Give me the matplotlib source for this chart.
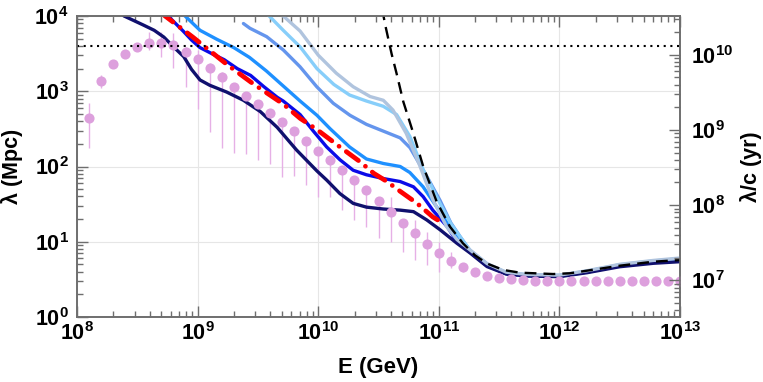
import numpy as np
import matplotlib
matplotlib.use("Agg")
import matplotlib.pyplot as plt
from matplotlib.ticker import LogLocator, FixedLocator, NullFormatter, FuncFormatter

plt.rcParams['font.family'] = ['Liberation Sans', 'DejaVu Sans']
plt.rcParams['mathtext.fontset'] = 'custom'
plt.rcParams['mathtext.rm'] = 'Liberation Sans:bold'
plt.rcParams['mathtext.bf'] = 'Liberation Sans:bold'
plt.rcParams['mathtext.it'] = 'Liberation Sans:bold'

# ---------------- data (log10 E [GeV], log10 lambda [Mpc]) ----------------
navy_logE = [8.30, 8.39, 8.55, 8.64, 8.72, 8.80, 8.885, 8.95, 9.02, 9.10, 9.24, 9.38, 9.52, 9.66,
             9.82, 9.99, 10.07, 10.18, 10.29, 10.40, 10.54, 10.68, 10.79, 10.90, 11.01, 11.15,
             11.26, 11.40, 11.56, 11.73, 12.00, 12.23, 12.50, 12.78, 13.00]
navy_logL = [4.12, 4.00, 3.88, 3.81, 3.72, 3.59, 3.46, 3.29, 3.15, 3.08, 2.99, 2.88, 2.73, 2.52,
             2.22, 1.94, 1.82, 1.64, 1.51, 1.46, 1.435, 1.42, 1.40, 1.29, 1.16, 0.98,
             0.85, 0.67, 0.57, 0.545, 0.536, 0.589, 0.668, 0.714, 0.735]

blue_logE = [8.70, 8.755, 8.88, 8.95, 9.02, 9.13, 9.22, 9.33, 9.44, 9.55, 9.66, 9.71, 9.85, 9.96,
             10.07, 10.18, 10.29, 10.40, 10.54, 10.68, 10.79, 10.87, 10.95, 11.07, 11.15,
             11.26, 11.40, 11.56, 11.73, 12.00, 12.23, 12.50, 12.78, 13.00]
blue_logL = [4.08, 4.00, 3.80, 3.68, 3.58, 3.49, 3.42, 3.30, 3.21, 3.06, 2.92, 2.87, 2.69, 2.47,
             2.26, 2.09, 1.95, 1.89, 1.84, 1.80, 1.73, 1.60, 1.42, 1.20, 1.00,
             0.86, 0.68, 0.575, 0.55, 0.542, 0.597, 0.68, 0.728, 0.75]

dodger_logE = [8.85, 8.896, 9.02, 9.16, 9.30, 9.43, 9.57, 9.71, 9.85, 9.99, 10.10, 10.26, 10.40,
               10.54, 10.68, 10.76, 10.87, 10.98, 11.08, 11.16,
               11.26, 11.40, 11.56, 11.73, 12.00, 12.23, 12.50, 12.78, 13.00]
dodger_logL = [4.06, 4.00, 3.81, 3.69, 3.58, 3.45, 3.27, 3.07, 2.87, 2.68, 2.50, 2.26, 2.10,
               2.04, 2.00, 1.92, 1.73, 1.47, 1.22, 1.03,
               0.87, 0.69, 0.58, 0.553, 0.546, 0.602, 0.686, 0.735, 0.757]

corn_logE = [9.38, 9.434, 9.573, 9.711, 9.849, 9.988, 10.125, 10.264, 10.40, 10.54, 10.68, 10.761,
             10.90, 11.01, 11.10, 11.18,
             11.26, 11.40, 11.56, 11.73, 12.00, 12.23, 12.50, 12.78, 13.00]
corn_logL = [3.90, 3.837, 3.725, 3.548, 3.326, 3.06, 2.84, 2.68, 2.56, 2.47, 2.38, 2.25,
             1.87, 1.55, 1.25, 1.06,
             0.88, 0.70, 0.585, 0.556, 0.55, 0.607, 0.69, 0.74, 0.765]

sky_logE = [9.56, 9.60, 9.71, 9.85, 9.99, 10.13, 10.26, 10.40, 10.54, 10.65, 10.76, 10.87, 11.01,
            11.10, 11.18,
            11.26, 11.40, 11.56, 11.73, 12.00, 12.23, 12.50, 12.78, 13.00]
sky_logL = [4.05, 3.99, 3.81, 3.59, 3.30, 3.09, 2.95, 2.87, 2.80, 2.69, 2.40, 1.96, 1.51,
            1.24, 1.06,
            0.885, 0.705, 0.59, 0.56, 0.553, 0.61, 0.695, 0.745, 0.775]

steel_logE = [9.68, 9.71, 9.85, 10.00, 10.15, 10.29, 10.43, 10.54, 10.62, 10.73, 10.84, 10.95,
              11.065, 11.15,
              11.26, 11.40, 11.56, 11.73, 12.00, 12.23, 12.50, 12.78, 13.00]
steel_logL = [4.05, 4.00, 3.80, 3.48, 3.24, 3.06, 2.93, 2.88, 2.75, 2.44, 2.02, 1.56,
              1.20, 1.03,
              0.89, 0.71, 0.595, 0.565, 0.556, 0.615, 0.70, 0.752, 0.784]

red_logE = [8.70, 8.73, 8.96, 9.24, 9.46, 9.71, 9.85, 9.99, 10.18, 10.35, 10.46, 10.57, 10.68,
            10.82, 10.95, 10.99]
red_logL = [4.05, 4.00, 3.72, 3.36, 3.10, 2.83, 2.64, 2.49, 2.26, 2.06, 1.91, 1.80, 1.67,
            1.51, 1.33, 1.29]

dash_logE = [10.53, 10.554, 10.609, 10.651, 10.706, 10.789, 10.871, 10.983, 11.093, 11.20, 11.30,
             11.40, 11.535, 11.673, 11.949, 12.088, 12.226, 12.502, 12.779, 13.0]
dash_logL = [4.10, 3.894, 3.495, 3.229, 2.86, 2.44, 2.00, 1.53, 1.20, 0.98, 0.82,
             0.71, 0.625, 0.589, 0.571, 0.581, 0.615, 0.682, 0.735, 0.757]

hubble_mpc = 4030.0

pts_logE = [8.1, 8.2, 8.3, 8.4, 8.5, 8.6, 8.7, 8.8, 8.9, 9.0,
            9.1, 9.2, 9.3, 9.4, 9.5, 9.6, 9.7, 9.8, 9.9, 10.0,
            10.1, 10.2, 10.3, 10.4, 10.5, 10.6, 10.7, 10.8, 10.9, 11.0,
            11.1, 11.2, 11.3, 11.4, 11.5, 11.6, 11.7, 11.8, 11.9, 12.0,
            12.1, 12.2, 12.3, 12.4, 12.5, 12.6, 12.7, 12.8, 12.9, 13.0]
pts_logL = [2.64, 3.13, 3.36, 3.50, 3.59, 3.645, 3.645, 3.615, 3.52, 3.43,
            3.305, 3.19, 3.06, 2.94, 2.83, 2.71, 2.595, 2.47, 2.34, 2.21,
            2.08, 1.95, 1.82, 1.69, 1.54, 1.395, 1.25, 1.11, 0.97, 0.846,
            0.748, 0.66, 0.594, 0.549, 0.522, 0.50, 0.492, 0.485, 0.48, 0.48,
            0.48, 0.48, 0.48, 0.48, 0.48, 0.48, 0.48, 0.48, 0.48, 0.48]
pts_hiL = [2.85, 3.21, 3.40, 3.53, 3.63, 3.79, 3.79, 3.78, 3.59, 3.55,
           3.38, 3.25, 3.11, 2.98, 2.87, 2.75, 2.63, 2.51, 2.38, 2.25,
           2.12, 1.99, 1.86, 1.72, 1.57, 1.60, 1.29, 1.29, 1.13, 1.00,
           0.87, 0.72, 0.62, 0.56, 0.53, 0.51, 0.50, 0.49, 0.49, 0.49,
           0.49, 0.49, 0.49, 0.49, 0.49, 0.49, 0.49, 0.49, 0.49, 0.49]
pts_loL = [2.25, 3.04, 3.32, 3.46, 3.55, 3.55, 3.46, 3.31, 3.06, 2.77,
           2.46, 2.24, 2.18, 2.17, 2.08, 2.03, 1.86, 1.87, 1.76, 1.60,
           1.60, 1.42, 1.29, 1.20, 1.05, 1.00, 0.87, 0.76, 0.69, 0.60,
           0.65, 0.60, 0.57, 0.54, 0.51, 0.49, 0.48, 0.47, 0.47, 0.47,
           0.47, 0.47, 0.47, 0.47, 0.47, 0.47, 0.47, 0.47, 0.47, 0.47]

MPC_TO_YR = 3.2616e6
xticks_exp = [8, 9, 10, 11, 12, 13]
yticks_exp = [0, 1, 2, 3, 4]
y2ticks_exp = [7, 8, 9, 10]

# ---------------- figure ----------------
fig = plt.figure(figsize=(7.63, 3.82), dpi=100)
ax = fig.add_axes([77/763, 1-317/382, (680-77)/763, (317-16)/382])
ax.set_xscale('log')
ax.set_yscale('log')
ax.set_xlim(1e8, 1e13)
ax.set_ylim(1, 1e4)

p = lambda a: 10.0 ** np.asarray(a)

ax.grid(True, which='major', color='#e6e6e6', lw=0.8, zorder=0)

curves = [
    (navy_logE, navy_logL, '#10106e'),
    (blue_logE, blue_logL, '#0a0ae8'),
    (dodger_logE, dodger_logL, '#1e90ff'),
    (corn_logE, corn_logL, '#6495ed'),
    (sky_logE, sky_logL, '#87cefa'),
    (steel_logE, steel_logL, '#b0c4de'),
]
for i, (xe, yl, c) in enumerate(curves):
    ax.plot(p(xe), p(yl), color=c, lw=2.4, zorder=3 + 0.1 * (5 - i) if i < 2 else 3 + 0.1 * i,
            solid_capstyle='round')

# pink points with error bars
ptsE = p(pts_logE)
ptsL = p(pts_logL)
yerr = [ptsL - p(pts_loL), p(pts_hiL) - ptsL]
ax.errorbar(ptsE, ptsL, yerr=yerr, fmt='none', ecolor='#e6b0e6', elinewidth=1.0, zorder=2.5)
ax.plot(ptsE, ptsL, 'o', color='#dda0dd', ms=7.3, mec='none', zorder=4)

# red dash-dot
ax.plot(p(red_logE), p(red_logL), color='#ff0000', lw=3.4, linestyle=(0, (3.2, 1.9, 0.01, 1.9)),
        dash_capstyle='round', zorder=5)

# black dashed
ax.plot(p(dash_logE), p(dash_logL), color='black', lw=1.7, linestyle=(0, (5, 3)), zorder=6)

# Hubble radius dotted
ax.axhline(hubble_mpc, color='black', lw=1.5, linestyle=(0, (1, 2.2)), zorder=6)

# ---------------- axes styling ----------------
spine_c = '#6e6e6e'
for s in ax.spines.values():
    s.set_color(spine_c)
    s.set_linewidth(1.2)

def fmt(v, pos):
    e = int(round(np.log10(v)))
    return r'$\mathbf{10^{%d}}$' % e

ax.xaxis.set_major_locator(FixedLocator(p(xticks_exp)))
ax.yaxis.set_major_locator(FixedLocator(p(yticks_exp)))
ax.xaxis.set_minor_locator(LogLocator(base=10, subs=np.arange(2, 10), numticks=20))
ax.yaxis.set_minor_locator(LogLocator(base=10, subs=np.arange(2, 10), numticks=20))
ax.xaxis.set_major_formatter(FuncFormatter(fmt))
ax.yaxis.set_major_formatter(FuncFormatter(fmt))
ax.xaxis.set_minor_formatter(NullFormatter())
ax.yaxis.set_minor_formatter(NullFormatter())
ax.tick_params(which='both', direction='in', top=True, right=False, color=spine_c, width=1.0)
ax.tick_params(which='major', length=8, labelsize=15.5)
ax.tick_params(which='minor', length=4)
ax.tick_params(axis='y', which='major', pad=6)
ax.tick_params(axis='x', which='major', pad=4)

ax.set_xlabel('E (GeV)', fontsize=16, fontweight='bold', labelpad=8)
ax.set_ylabel('λ (Mpc)', fontsize=15.5, fontweight='bold')
ax.yaxis.set_label_coords(-0.089, 0.5)

ax2 = ax.twinx()
ax2.set_yscale('log')
ax2.set_ylim(1 * MPC_TO_YR, 1e4 * MPC_TO_YR)
ax2.yaxis.set_major_locator(FixedLocator(p(y2ticks_exp)))
ax2.yaxis.set_minor_locator(LogLocator(base=10, subs=np.arange(2, 10), numticks=20))
ax2.yaxis.set_major_formatter(FuncFormatter(fmt))
ax2.yaxis.set_minor_formatter(NullFormatter())
ax2.tick_params(which='both', direction='in', color=spine_c, width=1.0)
ax2.tick_params(which='major', length=8, labelsize=15.5, pad=8)
ax2.tick_params(which='minor', length=4)
for s in ax2.spines.values():
    s.set_color(spine_c)
    s.set_linewidth(1.2)
ax2.set_ylabel('λ/c (yr)', fontsize=15.5, fontweight='bold', rotation=90)
ax2.yaxis.set_label_coords(1.1, 0.5)

fig.savefig('out.png', dpi=100)
